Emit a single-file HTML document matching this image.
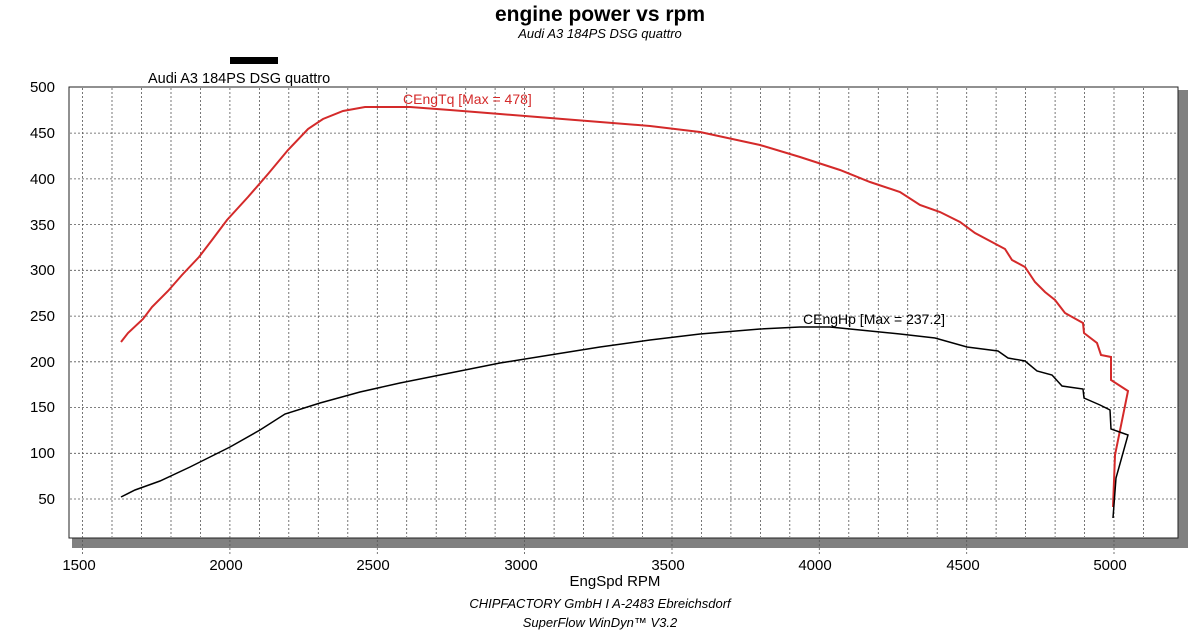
<!DOCTYPE html>
<html><head><meta charset="utf-8"><style>body{margin:0;background:#fff}svg{display:block;font-family:"Liberation Sans",sans-serif}</style></head><body>
<svg width="1200" height="631" viewBox="0 0 1200 631">
<text x="600" y="21" font-size="21" font-weight="bold" text-anchor="middle">engine power vs rpm</text>
<text x="600" y="38" font-size="13" font-style="italic" text-anchor="middle">Audi A3 184PS DSG quattro</text>
<rect x="230" y="57" width="48" height="7" fill="#000"/>
<text x="148" y="83" font-size="14.5">Audi A3 184PS DSG quattro</text>
<rect x="72" y="90" width="1116" height="458" fill="#808080"/>
<rect x="69" y="87" width="1109" height="451" fill="#fff" stroke="#222" stroke-width="1"/>
<path fill="none" stroke="#555" stroke-width="0.8" stroke-dasharray="2,2" d="
M82.5 88V555 M112 88V537 M141.5 88V537 M171 88V537 M200.4 88V537 M229.9 88V555 M259.4 88V537 M288.8 88V537 M318.3 88V537 M347.8 88V537
M377.3 88V555 M406.7 88V537 M436.2 88V537 M465.7 88V537 M495.1 88V537 M524.6 88V555 M554.1 88V537 M583.5 88V537 M613 88V537 M642.5 88V537
M672 88V555 M701.4 88V537 M730.9 88V537 M760.4 88V537 M789.8 88V537 M819.3 88V555 M848.8 88V537 M878.3 88V537 M907.7 88V537 M937.2 88V537
M966.7 88V555 M996.1 88V537 M1025.6 88V537 M1055.1 88V537 M1084.5 88V537 M1114 88V555 M1143.5 88V537
M70 499H1177 M70 453.3H1177 M70 407.5H1177 M70 361.8H1177 M70 316.1H1177 M70 270.3H1177 M70 224.6H1177 M70 178.9H1177 M70 133.1H1177"/>
<g font-size="15" text-anchor="end">
<text x="55" y="504">50</text><text x="55" y="458">100</text><text x="55" y="412">150</text><text x="55" y="367">200</text><text x="55" y="321">250</text>
<text x="55" y="275">300</text><text x="55" y="230">350</text><text x="55" y="184">400</text><text x="55" y="138">450</text><text x="55" y="92">500</text>
</g>
<g font-size="15" text-anchor="middle">
<text x="79" y="570">1500</text><text x="226" y="570">2000</text><text x="373" y="570">2500</text><text x="521" y="570">3000</text>
<text x="668" y="570">3500</text><text x="815" y="570">4000</text><text x="963" y="570">4500</text><text x="1110" y="570">5000</text>
</g>
<text x="615" y="586" font-size="15" text-anchor="middle">EngSpd RPM</text>
<text x="600" y="608" font-size="13" font-style="italic" text-anchor="middle">CHIPFACTORY GmbH I A-2483 Ebreichsdorf</text>
<text x="600" y="627" font-size="13" font-style="italic" text-anchor="middle">SuperFlow WinDyn™ V3.2</text>
<polyline fill="none" stroke="#d42a2a" stroke-width="2" points="121,342 128,333 143,319 152,307 168,291 182,275 199,257 212,240 227,220 248,197 268,174 288,150 308,129 323,119 343,111 365,107 410,107 450,110 500,114 550,118 600,122 650,126 700,132 760,145 800,157 840,170 870,182 900,192 920,205 940,212 960,222 975,233 990,241 1005,249 1012,260 1025,267 1035,282 1045,292 1055,300 1065,313 1083,323 1084,333 1097,343 1101,355 1111,357 1111,380 1128,391 1115,455 1113,507"/>
<polyline fill="none" stroke="#000" stroke-width="1.5" points="121,497 135,490 160,481 190,467 230,447 260,430 285,414 320,403 360,392 400,383 440,375 500,363 550,355 600,347 650,340 700,334 760,329 800,327 830,327 860,330 900,334 935,338 967,347 998,351 1008,358 1025,361 1037,371 1052,375 1062,386 1083,389 1084,398 1100,405 1110,410 1111,429 1128,435 1116,478 1113,518"/>
<text x="403" y="104" font-size="14" fill="#d42a2a">CEngTq [Max = 478]</text>
<text x="803" y="324" font-size="14">CEngHp [Max = 237.2]</text>
</svg>
</body></html>
